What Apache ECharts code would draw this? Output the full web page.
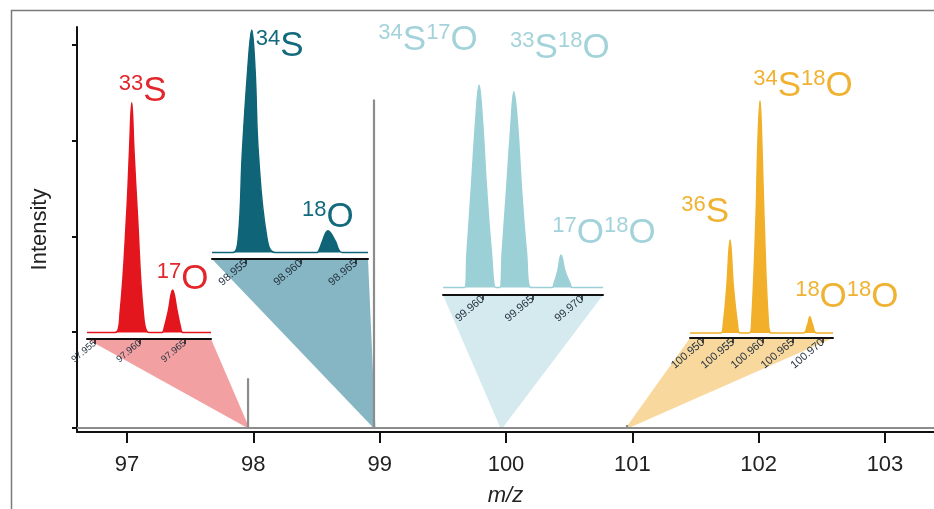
<!DOCTYPE html>
<html><head><meta charset="utf-8">
<script src="https://cdn.jsdelivr.net/npm/echarts@6/dist/echarts.min.js"></script>
<style>html,body{margin:0;padding:0;background:#fff}#c{width:934px;height:509px}</style>
</head><body><div id="c"></div>
<script>
// ---------------- DATA ----------------
// main spectrum (m/z, intensity in arbitrary units)
const mainTicks = [97, 98, 99, 100, 101, 102, 103];
const mainRange = [96.604, 103.388];
const mainYTicks = [0, 1, 2, 3, 4];
const mainSticks = [[97.958, 0.52], [98.955, 3.43], [99.962, 0.02], [100.958, 0.03]];

// inset 1 (red): 33S / 17O
const redRange = [97.9541, 97.9679];
const redTicks = [97.955, 97.960, 97.965];
const redSpectrum = [
  [97.95722, 0], [97.95778, 8.5], [97.95852, 52], [97.95883, 79], [97.95908, 100], [97.95933, 79], [97.95970, 52], [97.96037, 8.5], [97.96100, 0],
  [97.96244, 0], [97.96272, 2.5], [97.96314, 9.2], [97.96363, 18.5], [97.96414, 9.2], [97.96450, 2.5], [97.96478, 0]
];
const redPeaks = [
  {text: '{sup|33}{m|S}', mz: 97.95908, i: 100},
  {text: '{sup|17}{m|O}', mz: 97.96363, i: 18.5}
];

// inset 2 (teal): 34S / 18O
const tealRange = [98.9519, 98.9661];
const tealTicks = [98.955, 98.960, 98.965];
const tealSpectrum = [
  [98.95382, 0], [98.95430, 7.1], [98.95466, 44.6], [98.95515, 82], [98.95552, 100], [98.95582, 82], [98.95612, 44.6], [98.95688, 7.1], [98.95764, 0],
  [98.96145, 0], [98.96168, 1.5], [98.96194, 4.9], [98.96245, 9.8], [98.96315, 4.9], [98.96341, 1.5], [98.96373, 0]
];
const tealPeaks = [
  {text: '{sup|34}{m|S}', mz: 98.95552, i: 100},
  {text: '{sup|18}{m|O}', mz: 98.96245, i: 9.8}
];

// inset 3 (light blue): 34S17O / 33S18O / 17O18O
const blueRange = [99.9560, 99.9721];
const blueTicks = [99.960, 99.965, 99.970];
const blueSpectrum = [
  [99.95818, 0], [99.95841, 16.9], [99.95886, 50], [99.95929, 82.7], [99.95963, 100], [99.95997, 82.7], [99.96037, 50], [99.96088, 16.9], [99.96131, 0],
  [99.96172, 0], [99.96195, 16.9], [99.96239, 48], [99.96283, 80], [99.96313, 96.7], [99.96351, 80], [99.96391, 48], [99.96441, 16.9], [99.96485, 0],
  [99.96697, 0], [99.96717, 2], [99.96754, 8], [99.96788, 16], [99.96828, 8], [99.96879, 2], [99.96899, 0]
];
const bluePeaks = [
  {text: '{sup|34}{m|S}{sup|17}{m|O}', mz: 99.95963, i: 100},
  {text: '{sup|33}{m|S}{sup|18}{m|O}', mz: 99.96313, i: 96.7},
  {text: '{sup|17}{m|O}{sup|18}{m|O}', mz: 99.96788, i: 16}
];

// inset 4 (orange): 36S / 34S18O / 18O18O
const orangeRange = [100.9478, 100.9717];
const orangeTicks = [100.950, 100.955, 100.960, 100.965, 100.970];
const orangeSpectrum = [
  [100.95295, 0], [100.95338, 4.3], [100.95395, 20], [100.95450, 40], [100.95505, 20], [100.95572, 4.3], [100.95617, 0],
  [100.95772, 0], [100.95812, 5.6], [100.95883, 50], [100.95912, 80], [100.95950, 100], [100.95983, 80], [100.96017, 50], [100.96088, 5.6], [100.96145, 0],
  [100.96672, 0], [100.96745, 3.5], [100.96783, 7], [100.96828, 3.5], [100.96895, 0]
];
const orangePeaks = [
  {text: '{sup|36}{m|S}', mz: 100.95450, i: 40},
  {text: '{sup|34}{m|S}{sup|18}{m|O}', mz: 100.95950, i: 100},
  {text: '{sup|18}{m|O}{sup|18}{m|O}', mz: 100.96783, i: 7}
];

// ---------------- STYLE / LAYOUT ----------------
const FONT = 'Liberation Sans, Arial, sans-serif';
const mainGrid = {left: 77, top: 27, right: 0, bottom: 77, outerBoundsMode: 'none', containLabel: false};
const mainYRange = [-0.042, 4.188];
const insets = [
  {range: redRange, ticks: redTicks, spec: redSpectrum, peaks: redPeaks, yMin: -2.83,
   grid: {left: 87, top: 102.7, width: 124, height: 236.3}, color: '#e3161e', tri: '#f3a0a2', lab: '#e3262b', tickFont: 9.5,
   offsets: [[11, -12], [10, -11]]},
  {range: tealRange, ticks: tealTicks, spec: tealSpectrum, peaks: tealPeaks, yMin: -2.92,
   grid: {left: 212, top: 30, width: 156, height: 229}, color: '#0f6478', tri: '#86b6c3', lab: '#136a7c', tickFont: 11,
   offsets: [[28, 16], [0, -14]]},
  {range: blueRange, ticks: blueTicks, spec: blueSpectrum, peaks: bluePeaks, yMin: -3.7,
   grid: {left: 443, top: 85, width: 160, height: 210}, color: '#9cd0d7', tri: '#d5eaef', lab: '#a3d3da', tickFont: 11,
   offsets: [[-51, -45], [46, -44], [43, -22]]},
  {range: orangeRange, ticks: orangeTicks, spec: orangeSpectrum, peaks: orangePeaks, yMin: -2.15,
   grid: {left: 690, top: 100.7, width: 143, height: 237.3}, color: '#f2b02a', tri: '#f9d89e', lab: '#f0b232', tickFont: 11,
   offsets: [[-25, -28], [43, -15], [37, -20]]}
];

// ---------------- BUILD ----------------
function stickData() {
  const d = [[mainRange[0], 0]];
  mainSticks.forEach(([x, h]) => { d.push([x, 0], [x, h], [x, 0]); });
  d.push([mainRange[1], 0]);
  return d;
}

const grids = [mainGrid].concat(insets.map(s => Object.assign({outerBoundsMode: 'none', containLabel: false}, s.grid)));
const xAxes = [{
  type: 'value', gridIndex: 0, min: mainRange[0], max: mainRange[1],
  name: 'm/z', nameLocation: 'middle', nameGap: 53,
  nameTextStyle: {fontFamily: FONT, fontSize: 22, fontStyle: 'italic', color: '#222'},
  axisLine: {show: true, onZero: false, lineStyle: {color: '#111', width: 2}},
  axisTick: {show: true, length: 11, lineStyle: {color: '#111', width: 2}, customValues: mainTicks},
  axisLabel: {fontFamily: FONT, fontSize: 22, color: '#222', margin: 22, customValues: mainTicks},
  splitLine: {show: false}
}];
const yAxes = [{
  type: 'value', gridIndex: 0, min: mainYRange[0], max: mainYRange[1],
  name: 'Intensity', nameLocation: 'middle', nameGap: 26, nameRotate: 90,
  nameTextStyle: {fontFamily: FONT, fontSize: 22, color: '#222'},
  axisLine: {show: true, lineStyle: {color: '#111', width: 2}},
  axisTick: {show: true, length: 5, lineStyle: {color: '#111', width: 2}, customValues: mainYTicks},
  axisLabel: {show: false},
  splitLine: {show: false}
}];
const series = [{
  type: 'line', xAxisIndex: 0, yAxisIndex: 0, data: stickData(), symbol: 'none',
  lineStyle: {color: '#8c8c8c', width: 2.2}, z: 3, silent: true
}];

insets.forEach((s, i) => {
  const gi = i + 1;
  xAxes.push({
    type: 'value', gridIndex: gi, min: s.range[0], max: s.range[1], z: 4,
    axisLine: {show: true, onZero: false, lineStyle: {color: '#111', width: 2}},
    axisTick: {show: true, length: 5, lineStyle: {color: '#111', width: 1.5}, customValues: s.ticks},
    axisLabel: {fontFamily: FONT, fontSize: s.tickFont, color: '#24323f', rotate: 40, margin: 3,
      customValues: s.ticks, formatter: v => v.toFixed(3)},
    splitLine: {show: false}
  });
  yAxes.push({type: 'value', gridIndex: gi, min: s.yMin, max: 100, show: false, splitLine: {show: false}});
  const data = [[s.range[0], 0]].concat(s.spec, [[s.range[1], 0]]);
  series.push({
    type: 'line', xAxisIndex: gi, yAxisIndex: gi, data: data, symbol: 'none',
    smooth: 0.4,
    lineStyle: {color: s.color, width: 1.5}, areaStyle: {color: s.color, opacity: 1, origin: 0},
    z: 3, silent: true
  });
});

const chart = echarts.init(document.getElementById('c'));
chart.setOption({
  animation: false,
  backgroundColor: '#fff',
  grid: grids,
  xAxis: xAxes,
  yAxis: yAxes,
  series: series
});

const rich = c => ({
  m: {fontFamily: FONT, fontSize: 35, lineHeight: 36, fill: c, verticalAlign: 'bottom'},
  sup: {fontFamily: FONT, fontSize: 22, lineHeight: 20, fill: c, verticalAlign: 'top'}
});

const graphics = [{
  type: 'rect', shape: {x: 11.5, y: 10.5, width: 1000, height: 1000},
  style: {fill: 'none', stroke: '#7a7a7a', lineWidth: 1.5}, z: 100, silent: true
}];
insets.forEach((s, i) => {
  const gi = i + 1;
  const pL = chart.convertToPixel({gridIndex: gi}, [s.range[0], s.yMin]);
  const pR = chart.convertToPixel({gridIndex: gi}, [s.range[1], s.yMin]);
  const mR = chart.convertToPixel({gridIndex: 0}, [s.range[1], 0]);
  const mL = chart.convertToPixel({gridIndex: 0}, [s.range[0], 0]);
  graphics.push({type: 'polygon', shape: {points: [pL, pR, mR, mL]}, style: {fill: s.tri}, z: 0, silent: true});
  s.peaks.forEach((p, k) => {
    const pt = chart.convertToPixel({gridIndex: gi}, [p.mz, p.i]);
    const o = s.offsets[k];
    graphics.push({
      type: 'text', x: pt[0] + o[0], y: pt[1] + o[1], z: 50, silent: true,
      style: {text: p.text, rich: rich(s.lab), fill: s.lab, align: 'center', verticalAlign: 'middle'}
    });
  });
});
chart.setOption({graphic: graphics});
</script>
</body></html>
